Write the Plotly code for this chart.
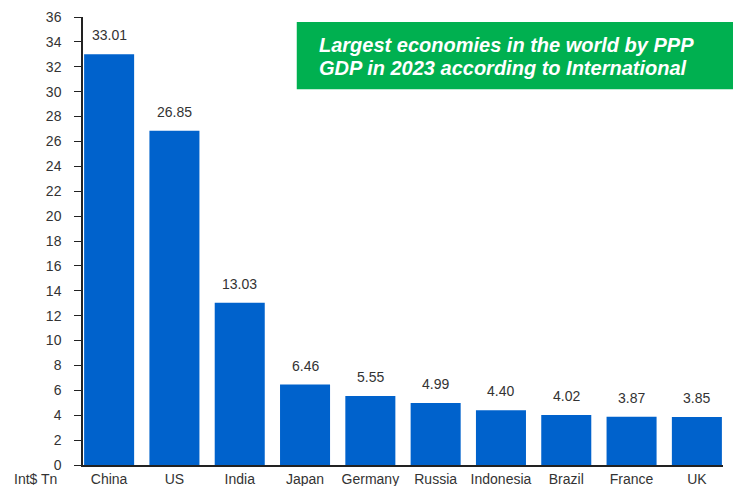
import plotly.graph_objects as go

countries = ["China", "US", "India", "Japan", "Germany", "Russia", "Indonesia", "Brazil", "France", "UK"]
gdp_ppp = [33.01, 26.85, 13.03, 6.46, 5.55, 4.99, 4.40, 4.02, 3.87, 3.85]
y_ticks = list(range(0, 37, 2))
title_lines = ["Largest economies in the world by PPP", "GDP in 2023 according to International"]
unit_label = "Int$ Tn"

FONT = "Liberation Sans, Arial, sans-serif"
TXT = "#333333"

fig = go.Figure()
fig.add_trace(go.Bar(
    x=list(range(len(countries))),
    y=gdp_ppp,
    marker=dict(color="#0062CC", line=dict(width=0)),
    hoverinfo="skip",
))

for i, v in enumerate(gdp_ppp):
    fig.add_annotation(x=i, y=v, text=f"{v:.2f}", showarrow=False,
                       yanchor="middle", yshift=19,
                       font=dict(family=FONT, size=14, color=TXT))

fig.add_shape(type="rect", xref="paper", yref="paper",
              x0=0.334, x1=1.02, y0=0.839, y1=0.989,
              fillcolor="#00B050", line=dict(width=0), layer="above")
for k, (line, py) in enumerate(zip(title_lines, [45, 68])):
    fig.add_annotation(xref="paper", yref="paper", x=(317 - 83) / 640, y=(465 - py) / 448,
                       xanchor="left", yanchor="middle", align="left",
                       text="<b><i>" + line + "</i></b>",
                       showarrow=False,
                       font=dict(family=FONT, size=20, color="white"))

fig.add_annotation(xref="paper", yref="paper", x=(12 - 83) / 640, y=(465 - 479) / 448,
                   xanchor="left", yanchor="middle", text=unit_label,
                   showarrow=False, font=dict(family=FONT, size=14, color=TXT))

fig.update_layout(
    width=733, height=486,
    margin=dict(l=83, r=10, t=17, b=21),
    paper_bgcolor="white", plot_bgcolor="white",
    bargap=0.234,
    showlegend=False,
    font=dict(family=FONT, size=14, color=TXT),
    xaxis=dict(
        tickmode="array", tickvals=list(range(len(countries))), ticktext=countries,
        range=[-0.4, 9.4], showgrid=False, zeroline=False, automargin=False,
        showline=True, linecolor="#222222", linewidth=1.5, ticks="",
        tickfont=dict(family=FONT, size=14, color=TXT),
    ),
    yaxis=dict(
        range=[0, 36], tickmode="array", tickvals=y_ticks,
        showgrid=False, zeroline=False, automargin=False,
        showline=True, linecolor="#222222", linewidth=1.5,
        ticks="outside", ticklen=7, tickcolor="#222222", tickwidth=1,
        ticklabelstandoff=10,
        tickfont=dict(family=FONT, size=14, color=TXT),
    ),
)

fig.write_html("out.html")
